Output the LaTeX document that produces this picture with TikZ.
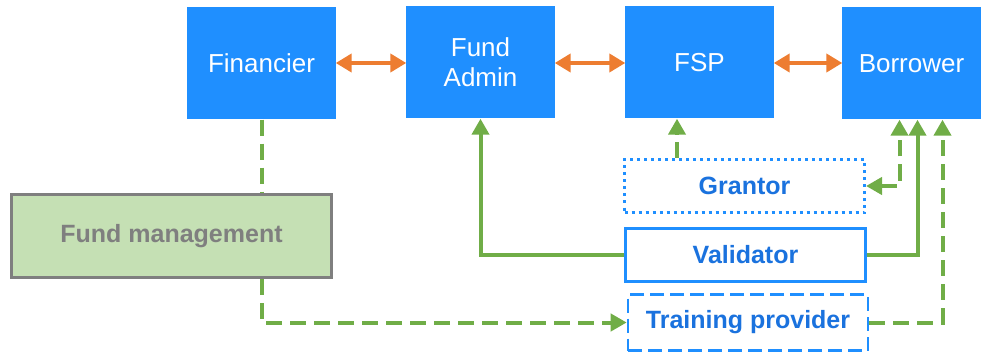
\documentclass[tikz,border=0pt]{standalone}
\usepackage{fontspec}
\setmainfont{Liberation Sans}
\usetikzlibrary{arrows.meta,calc}
\definecolor{boxblue}{RGB}{31,143,255}
\definecolor{txtblue}{RGB}{26,114,222}
\definecolor{arrorange}{RGB}{237,125,49}
\definecolor{arrgreen}{RGB}{112,173,71}
\definecolor{fmfill}{RGB}{197,224,180}
\definecolor{fmgray}{RGB}{127,127,127}
\tikzset{
  topbox/.style={draw=none,fill=boxblue,text=white,minimum width=149pt,minimum height=112pt,inner sep=0pt,align=center,font=\fontsize{26}{30}\selectfont},
  lowbox/.style={draw=boxblue,line width=2.6pt,fill=white,text=txtblue,minimum width=240pt,minimum height=53pt,inner sep=0pt,font=\fontsize{25}{30}\selectfont\bfseries},
  orarrow/.style={draw=arrorange,line width=4pt,{Triangle[width=18pt,length=16pt]}-{Triangle[width=18pt,length=16pt]},shorten <=-0.5pt,shorten >=-0.5pt},
  gsolid/.style={draw=arrgreen,line width=4pt},
  gdash/.style={draw=arrgreen,line width=4pt,dash pattern=on 16pt off 8pt},
  gtip/.style={-{Triangle[width=17pt,length=16pt]}},
}
\begin{document}
\begin{tikzpicture}[x=1pt,y=-1pt]
\useasboundingbox (0,0) rectangle (981,358);
% top boxes
\node[topbox] (fin) at (261.5,63.5) {Financier};
\node[topbox] (fa) at (480.5,62.5) {Fund\\Admin};
\node[topbox] (fsp) at (699.5,62.5) {FSP};
\node[topbox,minimum width=139pt] (bor) at (911.5,63.5) {Borrower};
% fund management
\node[draw=fmgray,line width=3pt,fill=fmfill,text=fmgray,minimum width=320pt,minimum height=83pt,inner sep=0pt,font=\fontsize{25}{30}\selectfont\bfseries] (fm) at (171.5,236) {Fund management};
% lower boxes
\node[lowbox,dash pattern=on 3pt off 4pt,line width=3pt] (gr) at (744.5,186) {Grantor};
\node[lowbox] (val) at (745.5,255) {Validator};
\node[lowbox,dash pattern=on 14pt off 6pt,minimum height=56pt] (tp) at (748,322.5) {Training provider};
% orange arrows
\draw[orarrow] (fin.east |- 0,63) -- (fa.west |- 0,63);
\draw[orarrow] (fa.east |- 0,63) -- (fsp.west |- 0,63);
\draw[orarrow] (fsp.east |- 0,63) -- (bor.west |- 0,63);
% green connectors
\draw[gdash] (fin.south) -- (fin.south |- fm.north);
\draw[gdash,gtip] (fin.south |- fm.south) |- (tp.west);
\draw[gsolid,gtip] (val.west) -| (fa.south);
\draw[gsolid,gtip] (val.east) -| ([xshift=6pt]bor.south);
\draw[gdash,{Triangle[width=17pt,length=16pt]}-{Triangle[width=17pt,length=16pt]}] (gr.east) -| ([xshift=-12pt]bor.south);
\draw[gdash,gtip] (tp.east) -| ([xshift=31pt]bor.south);
\draw[gdash,gtip] ([xshift=-67.5pt]gr.north) -- ([xshift=-67.5pt]gr.north |- fsp.south);
\end{tikzpicture}
\end{document}
